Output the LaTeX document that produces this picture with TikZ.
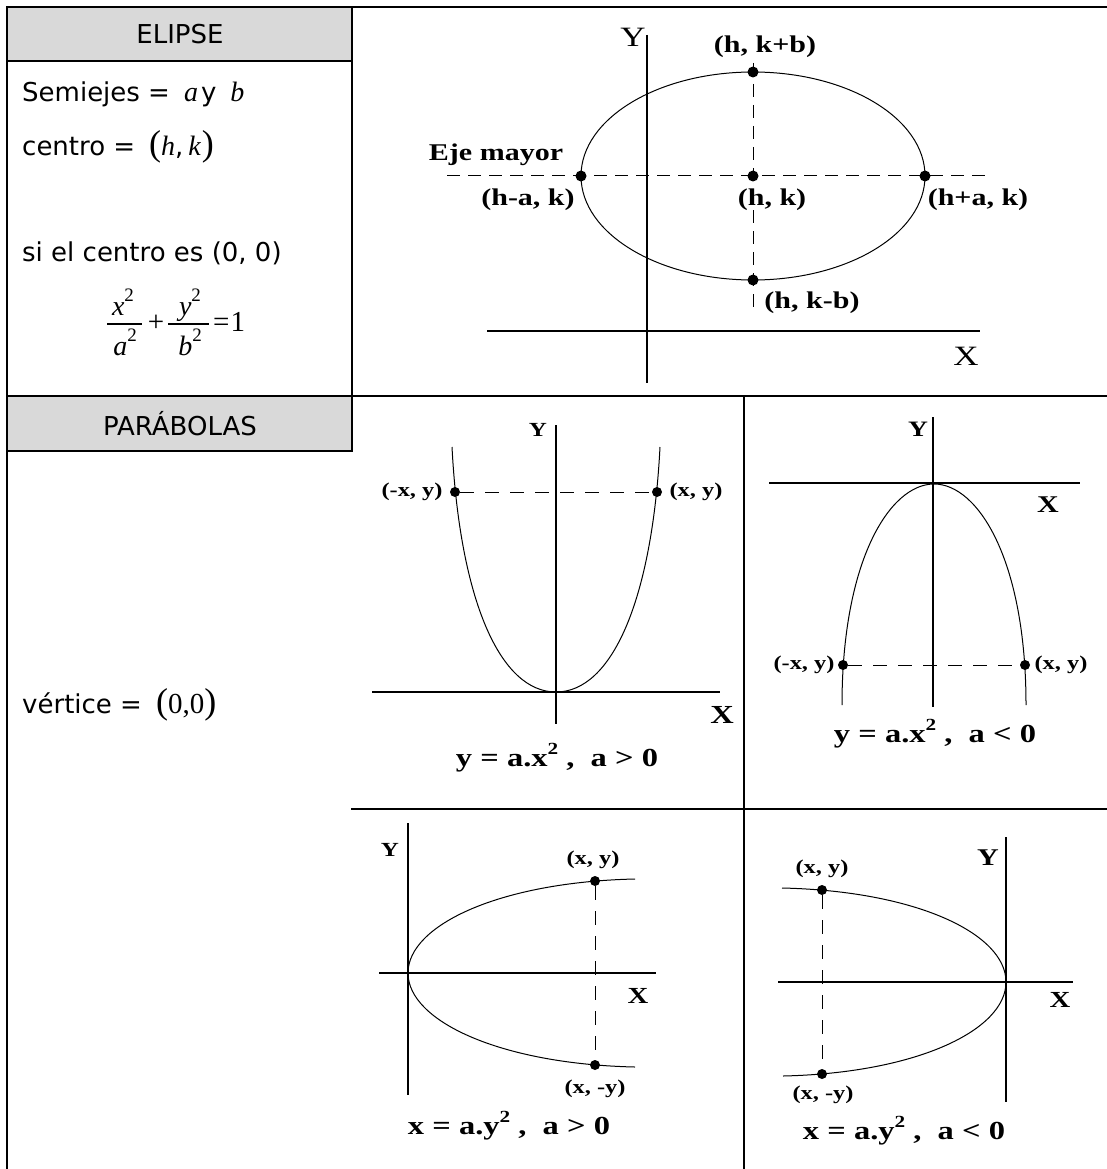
\documentclass[tikz,border=0pt]{standalone}
\usepackage{fontspec}
\setsansfont{DejaVu Sans}
\newfontfamily\lblfont[FakeStretch=1.25]{Liberation Serif}
\newfontfamily\tms{Liberation Serif}
\definecolor{hdrgray}{HTML}{D9D9D9}
\newcommand\mvar[1]{{\tms\itshape\fontsize{28}{30}\selectfont #1}}
\newcommand\bpar[1]{{\tms\fontsize{36}{36}\selectfont #1}}
\newcommand\sqr{\raisebox{14pt}{\tms\fontsize{19}{19}\selectfont 2}}
\begin{document}
\begin{tikzpicture}[x=1pt,y=-1pt,
  grid/.style={line width=2pt,line cap=rect},
  axis/.style={line width=1.2pt},
  curve/.style={line width=1pt},
  fracbar/.style={line width=1.2pt},
  dsh/.style={line width=1pt,dash pattern=on 13pt off 8pt},
  dshp/.style={line width=1pt,dash pattern=on 14pt off 11pt},
  bigdot/.style={circle,fill=black,inner sep=0pt,minimum size=11pt},
  smalldot/.style={circle,fill=black,inner sep=0pt,minimum size=10pt},
  hdr/.style={inner sep=0pt,font=\sffamily\fontsize{26}{30}\selectfont},
  txt/.style={inner sep=0pt,anchor=base west,font=\sffamily\fontsize{26}{30}\selectfont},
  mth/.style={inner sep=0pt,anchor=base,font=\tms\fontsize{29}{30}\selectfont},
  lbl/.style={inner sep=0pt,font=\lblfont\bfseries\fontsize{24}{26}\selectfont},
  slbl/.style={inner sep=0pt,font=\lblfont\bfseries\fontsize{19.5}{21}\selectfont},
  eqlbl/.style={inner sep=0pt,anchor=base,font=\lblfont\bfseries\fontsize{26}{28}\selectfont},
  axlbl/.style={inner sep=0pt,font=\lblfont\bfseries\fontsize{24}{26}\selectfont},
  axlblr/.style={inner sep=0pt,font=\lblfont\fontsize{28}{30}\selectfont}
]
\useasboundingbox (0,0) rectangle (1107,1169);
% ---------- table ----------
\fill[hdrgray] (7,7) rectangle (352,61);
\fill[hdrgray] (7,396) rectangle (352,451);
\draw[grid] (7,7) -- (1107,7);
\draw[grid] (7,7) -- (7,1169);
\draw[grid] (7,61) -- (352,61);
\draw[grid] (352,7) -- (352,451);
\draw[grid] (7,396) -- (1107,396);
\draw[grid] (7,451) -- (352,451);
\draw[grid] (744,396) -- (744,1169);
\draw[grid] (352,809) -- (1107,809);

\node[hdr] (hElipse) at (180,34) {ELIPSE};
\node[hdr] (hPar) at (180,424) {PARÁBOLAS};

\node[txt] (semi) at (22,102) {Semiejes =\kern14pt\mvar{a}\kern3pt y\kern14pt\mvar{b}};
\node[txt] (centro) at (22,156) {centro =\kern14pt\bpar{(}\mvar{h},\kern5pt\mvar{k}\kern1pt\bpar{)}};
\node[txt] (sicentro) at (22,261) {si el centro es (0, 0)};
\node[txt] (vert) at (22,713) {vértice =\kern14pt\bpar{(}{\tms\fontsize{29}{30}\selectfont 0,0}\bpar{)}};

% fraction x^2/a^2 + y^2/b^2 = 1
\node[mth] (num1) at (123,315) {\mvar{x}\sqr};
\node[mth] (den1) at (125,355) {\mvar{a}\sqr};
\coordinate (bar1l) at (107,324);
\coordinate (bar1r) at (142,324);
\draw[fracbar] (bar1l) -- (bar1r);
\node[mth] (plus) at (156,331) {+};
\node[mth] (num2) at (190,315) {\mvar{y}\sqr};
\node[mth] (den2) at (190,355) {\mvar{b}\sqr};
\coordinate (bar2l) at (168,324);
\coordinate (bar2r) at (209,324);
\draw[fracbar] (bar2l) -- (bar2r);
\node[mth,anchor=base west] (eqone) at (213,331) {=\kern1pt1};

% ---------- ellipse ----------
\coordinate (eC) at (753,176);
\draw[axis] (647,35) -- (647,383);
\draw[axis] (487,331) -- (980,331);
\draw[curve] (eC) ellipse [x radius=172, y radius=104];
\coordinate (eHL) at (447,176);
\coordinate (eHR) at (987,176);
\coordinate (eVT) at (753,63);
\coordinate (eVB) at (753,310);
\draw[dsh] (eHL) -- (eHR);
\draw[dsh] (eVT) -- (eVB);
\node[bigdot] (eTop) at (753,72) {};
\node[bigdot] (eBot) at (753,280) {};
\node[bigdot] (eLeft) at (581,176) {};
\node[bigdot] (eRight) at (925,176) {};
\node[bigdot] (eCen) at (eC) {};
\node[axlblr] (eY) at (633,37) {Y};
\node[axlblr] (eX) at (966,356) {X};
\node[lbl] (lTop) at (765,47) {(h, k+b)};
\node[lbl] (lEje) at (496,155) {Eje mayor};
\node[lbl] (lLeft) at (528,200) {(h-a, k)};
\node[lbl] (lCen) at (772,200) {(h, k)};
\node[lbl] (lRight) at (978,200) {(h+a, k)};
\node[lbl] (lBot) at (812,303) {(h, k-b)};

% ---------- parabola 1: y = a x^2, a>0 ----------
\draw[axis] (556,425) -- (556,724);
\draw[axis] (372,692) -- (720,692);
\draw[curve] (452,447) .. controls (460,600) and (500,692) .. (556,692)
  .. controls (612,692) and (652,600) .. (660,447);
\node[smalldot] (p1L) at (455,492) {};
\node[smalldot] (p1R) at (657,492) {};
\draw[dshp] (p1L) -- (p1R);
\node[slbl] (p1lL) at (412,492) {(-x, y)};
\node[slbl] (p1lR) at (696,492) {(x, y)};
\node[axlbl,font=\lblfont\bfseries\fontsize{20}{22}\selectfont] (p1Y) at (538,430) {Y};
\node[axlbl,font=\lblfont\bfseries\fontsize{26}{28}\selectfont] (p1X) at (722,715) {X};
\node[eqlbl] (p1eq) at (557,766) {y = a.x\raisebox{0.45em}{\fontsize{17}{17}\selectfont 2} ,\ \ a > 0};

% ---------- parabola 2: y = a x^2, a<0 ----------
\draw[axis] (933,417) -- (933,707);
\draw[axis] (769,483) -- (1080,483);
\draw[curve] (842,705) .. controls (842,560) and (890,484) .. (934,484)
  .. controls (978,484) and (1026,560) .. (1026,705);
\node[smalldot] (p2L) at (843,665) {};
\node[smalldot] (p2R) at (1025,665) {};
\draw[dshp] (p2L) -- (p2R);
\node[slbl] (p2lL) at (804,665) {(-x, y)};
\node[slbl] (p2lR) at (1061,665) {(x, y)};
\node[axlbl,font=\lblfont\bfseries\fontsize{22}{24}\selectfont] (p2Y) at (918,429) {Y};
\node[axlbl] (p2X) at (1048,505) {X};
\node[eqlbl] (p2eq) at (935,742) {y = a.x\raisebox{0.45em}{\fontsize{17}{17}\selectfont 2} ,\ \ a < 0};

% ---------- parabola 3: x = a y^2, a>0 ----------
\draw[axis] (408,823) -- (408,1095);
\draw[axis] (379,973) -- (656,973);
\draw[curve] (635,879) .. controls (500,882) and (408,925) .. (408,973)
  .. controls (408,1021) and (500,1064) .. (635,1067);
\node[smalldot] (p3T) at (595,881) {};
\node[smalldot] (p3B) at (595,1065) {};
\draw[dshp] (p3T) -- (p3B);
\node[slbl] (p3lT) at (593,860) {(x, y)};
\node[slbl] (p3lB) at (595,1089) {(x, -y)};
\node[axlbl,font=\lblfont\bfseries\fontsize{20}{22}\selectfont] (p3Y) at (390,850) {Y};
\node[axlbl,font=\lblfont\bfseries\fontsize{23}{25}\selectfont] (p3X) at (638,996) {X};
\node[eqlbl] (p3eq) at (509,1134) {x = a.y\raisebox{0.45em}{\fontsize{17}{17}\selectfont 2} ,\ \ a > 0};

% ---------- parabola 4: x = a y^2, a<0 ----------
\draw[axis] (1006,837) -- (1006,1102);
\draw[axis] (778,982) -- (1073,982);
\draw[curve] (782,888) .. controls (917,891) and (1006,934) .. (1006,982)
  .. controls (1006,1030) and (917,1073) .. (783,1076);
\node[smalldot] (p4T) at (822,890) {};
\node[smalldot] (p4B) at (822,1074) {};
\draw[dshp] (p4T) -- (p4B);
\node[slbl] (p4lT) at (822,869) {(x, y)};
\node[slbl] (p4lB) at (823,1095) {(x, -y)};
\node[axlbl] (p4Y) at (988,858) {Y};
\node[axlbl,font=\lblfont\bfseries\fontsize{23}{25}\selectfont] (p4X) at (1060,1000) {X};
\node[eqlbl] (p4eq) at (904,1139) {x = a.y\raisebox{0.45em}{\fontsize{17}{17}\selectfont 2} ,\ \ a < 0};
\end{tikzpicture}
\end{document}
